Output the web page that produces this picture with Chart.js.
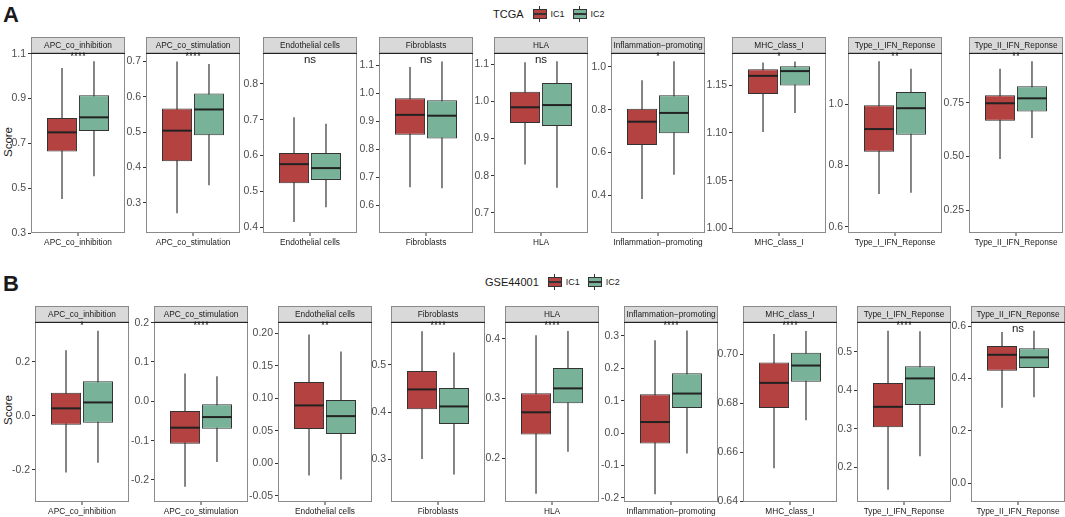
<!DOCTYPE html>
<html>
<head>
<meta charset="utf-8">
<script src="https://cdn.jsdelivr.net/npm/chart.js@4.4.0/dist/chart.umd.min.js"></script>
<style>
  body { margin: 0; width: 1065px; height: 517px; background: #fff; position: relative; overflow: hidden;
         font-family: "Liberation Sans", Arial, sans-serif; color: #1a1a1a; }
  .panel { position: absolute; }
  .tag { position: absolute; font-weight: bold; font-size: 22px; line-height: 22px; }
  .ytitle { position: absolute; font-size: 11.5px; width: 60px; text-align: center; transform: rotate(-90deg); }
  .legend { position: absolute; display: flex; align-items: center; font-size: 9px; line-height: 12px; }
  .legend .lt { font-size: 11px; margin-right: 4px; }
  .key { position: relative; box-sizing: border-box; width: 14px; height: 10px; border: 1px solid #333; margin: 0 4px 0 5px; }
  .key i { position: absolute; left: 0; right: 0; top: 3px; height: 2px; background: #333; }
  .key::before, .key::after { content: ""; position: absolute; left: 5px; width: 1.2px; height: 3px; background: #333; }
  .key::before { top: -4px; }
  .key::after { bottom: -4px; }
</style>
</head>
<body>
<div class="tag" style="left:3px;top:4px">A</div>
<div class="tag" style="left:3px;top:273px">B</div>
<div class="ytitle" style="left:-22px;top:136px">Score</div>
<div class="ytitle" style="left:-22px;top:404px">Score</div>
<div class="legend" style="left:493px;top:8px">
  <span class="lt">TCGA</span><span class="key" style="background:#B44240"><i></i></span><span>IC1</span>
  <span class="key" style="background:#78B298;margin-left:8px"><i></i></span><span>IC2</span>
</div>
<div class="legend" style="left:485px;top:276px">
  <span class="lt">GSE44001</span><span class="key" style="background:#B44240"><i></i></span><span>IC1</span>
  <span class="key" style="background:#78B298;margin-left:8px"><i></i></span><span>IC2</span>
</div>

<script>
// panel names
const panels = ["APC_co_inhibition", "APC_co_stimulation", "Endothelial cells", "Fibroblasts", "HLA",
  "Inflammation−promoting", "MHC_class_I", "Type_I_IFN_Reponse", "Type_II_IFN_Reponse"];

// significance labels
const tcgaSig = ["****", "****", "ns", "ns", "ns", "*", "*", "**", "**"];
const gseSig = ["*", "****", "**", "****", "****", "****", "****", "****", "ns"];

// box stats: [min, q1, median, q3, max]
const tcgaIC1 = [
  [0.452, 0.664, 0.749, 0.813, 1.036],
  [0.270, 0.417, 0.504, 0.567, 0.700],
  [0.415, 0.523, 0.576, 0.607, 0.707],
  [0.664, 0.852, 0.923, 0.982, 1.094],
  [0.830, 0.942, 0.984, 1.026, 1.105],
  [0.383, 0.635, 0.744, 0.804, 0.938],
  [1.101, 1.141, 1.160, 1.167, 1.174],
  [0.707, 0.845, 0.919, 0.997, 1.140],
  [0.488, 0.666, 0.747, 0.784, 0.908]
];
const tcgaIC2 = [
  [0.553, 0.755, 0.816, 0.914, 1.066],
  [0.349, 0.491, 0.564, 0.609, 0.693],
  [0.456, 0.532, 0.565, 0.607, 0.689],
  [0.661, 0.839, 0.920, 0.975, 1.114],
  [0.768, 0.934, 0.990, 1.049, 1.108],
  [0.496, 0.690, 0.785, 0.868, 1.027],
  [1.121, 1.150, 1.165, 1.170, 1.175],
  [0.711, 0.900, 0.987, 1.040, 1.116],
  [0.585, 0.709, 0.770, 0.826, 0.943]
];
const gseIC1 = [
  [-0.210, -0.033, 0.028, 0.086, 0.243],
  [-0.217, -0.108, -0.067, -0.0245, 0.071],
  [-0.019, 0.0526, 0.089, 0.125, 0.198],
  [0.301, 0.406, 0.448, 0.487, 0.571],
  [0.141, 0.240, 0.277, 0.309, 0.406],
  [-0.189, -0.032, 0.034, 0.120, 0.287],
  [0.6535, 0.6781, 0.6884, 0.6967, 0.7084],
  [0.141, 0.304, 0.357, 0.419, 0.555],
  [0.288, 0.430, 0.491, 0.525, 0.578]
];
const gseIC2 = [
  [-0.174, -0.025, 0.050, 0.128, 0.316],
  [-0.154, -0.070, -0.040, -0.0076, 0.064],
  [-0.025, 0.045, 0.0725, 0.0975, 0.172],
  [0.268, 0.375, 0.412, 0.451, 0.526],
  [0.211, 0.292, 0.317, 0.351, 0.413],
  [-0.063, 0.077, 0.122, 0.185, 0.317],
  [0.6731, 0.6889, 0.6955, 0.7007, 0.7096],
  [0.228, 0.362, 0.431, 0.463, 0.554],
  [0.328, 0.440, 0.481, 0.516, 0.583]
];

// y tick labels
const tcgaTicks = [
  ["0.3", "0.5", "0.7", "0.9", "1.1"],
  ["0.3", "0.4", "0.5", "0.6", "0.7"],
  ["0.4", "0.5", "0.6", "0.7", "0.8"],
  ["0.6", "0.7", "0.8", "0.9", "1.0", "1.1"],
  ["0.7", "0.8", "0.9", "1.0", "1.1"],
  ["0.4", "0.6", "0.8", "1.0"],
  ["1.00", "1.05", "1.10", "1.15"],
  ["0.6", "0.8", "1.0"],
  ["0.25", "0.50", "0.75"]
];
const gseTicks = [
  ["-0.2", "0.0", "0.2"],
  ["-0.2", "-0.1", "0.0", "0.1", "0.2"],
  ["-0.05", "0.00", "0.05", "0.10", "0.15", "0.20"],
  ["0.3", "0.4", "0.5"],
  ["0.2", "0.3", "0.4"],
  ["-0.2", "-0.1", "0.0", "0.1", "0.2", "0.3"],
  ["0.64", "0.66", "0.68", "0.70"],
  ["0.2", "0.3", "0.4", "0.5"],
  ["0.0", "0.2", "0.4", "0.6"]
];

// y axis limits [min, max]
const tcgaLimits = [[0.3, 1.103], [0.214, 0.724], [0.384, 0.886], [0.501, 1.144], [0.646, 1.130],
  [0.224, 1.065], [0.995, 1.184], [0.580, 1.167], [0.143, 0.981]];
const gseLimits = [[-0.319, 0.348], [-0.256, 0.2017], [-0.0597, 0.2174], [0.210, 0.5905], [0.127, 0.428],
  [-0.213, 0.343], [0.6397, 0.7133], [0.109, 0.578], [-0.0725, 0.6165]];

const RED = "#B44240";
const GREEN = "#78B298";
const DARK = "#333333";
const FONT = "'Liberation Sans', Arial, sans-serif";

const AXW = 34, XH = 18, STRIP = 16, PW = 94;

const boxPlugin = {
  id: "boxes",
  beforeDatasetsDraw(chart) {
    const { ctx } = chart;
    const y = chart.scales.y;
    chart.data.datasets.forEach((ds, i) => {
      const bar = chart.getDatasetMeta(i).data[0];
      const s = ds.stats;
      ctx.save();
      ctx.strokeStyle = DARK;
      ctx.lineWidth = 1.2;
      ctx.beginPath();
      ctx.moveTo(bar.x, y.getPixelForValue(s[0]));
      ctx.lineTo(bar.x, y.getPixelForValue(s[4]));
      ctx.stroke();
      ctx.restore();
    });
  },
  afterDatasetsDraw(chart) {
    const { ctx } = chart;
    const y = chart.scales.y;
    chart.data.datasets.forEach((ds, i) => {
      const bar = chart.getDatasetMeta(i).data[0];
      const py = y.getPixelForValue(ds.stats[2]);
      ctx.save();
      ctx.strokeStyle = "#222";
      ctx.lineWidth = 2;
      ctx.beginPath();
      ctx.moveTo(bar.x - bar.width / 2, py);
      ctx.lineTo(bar.x + bar.width / 2, py);
      ctx.stroke();
      ctx.restore();
    });
  },
  afterDraw(chart) {
    const { ctx, chartArea: a } = chart;
    const o = chart.options.plugins.boxes;
    const cx = a.left + a.width / 2;
    ctx.save();
    // panel border
    ctx.strokeStyle = "#8a8a8a";
    ctx.lineWidth = 1;
    ctx.strokeRect(a.left + 0.5, a.top, a.width - 1, a.height - 0.5);
    // strip
    ctx.fillStyle = "#D9D9D9";
    ctx.fillRect(a.left, 0.5, a.width, a.top - 0.5);
    ctx.strokeRect(a.left + 0.5, 0.5, a.width - 1, a.top - 0.5);
    ctx.strokeStyle = "#222";
    ctx.beginPath();
    ctx.moveTo(a.left, a.top + 0.5);
    ctx.lineTo(a.right, a.top + 0.5);
    ctx.stroke();
    ctx.fillStyle = "#1a1a1a";
    ctx.font = "8.3px " + FONT;
    ctx.textAlign = "center";
    ctx.textBaseline = "middle";
    ctx.fillText(o.title, cx, a.top / 2 + 0.5);
    // significance
    if (o.sig === "ns") {
      ctx.font = "11.5px " + FONT;
      ctx.fillText(o.sig, cx, a.top + 7);
    } else {
      ctx.font = "10px " + FONT;
      ctx.textBaseline = "top";
      ctx.fillText(o.sig, cx, a.top - 1);
    }
    // x tick and label
    ctx.strokeStyle = DARK;
    ctx.beginPath();
    ctx.moveTo(cx, a.bottom);
    ctx.lineTo(cx, a.bottom + 3);
    ctx.stroke();
    ctx.font = "8.3px " + FONT;
    ctx.textBaseline = "middle";
    ctx.fillText(o.title, cx, a.bottom + 10);
    ctx.restore();
  }
};

function makePanel(left, top, height, idx, ic1, ic2, ticks, limits, sig) {
  const div = document.createElement("div");
  div.className = "panel";
  const w = AXW + PW + 20;
  div.style.left = (left - AXW) + "px";
  div.style.top = top + "px";
  const cv = document.createElement("canvas");
  cv.width = w;
  cv.height = height;
  cv.style.width = w + "px";
  cv.style.height = height + "px";
  div.appendChild(cv);
  document.body.appendChild(div);
  const labels = ticks[idx];
  const mk = (name, s, color) => ({
    label: name, data: [[s[1], s[3]]], stats: s,
    backgroundColor: color, borderColor: DARK, borderWidth: 1, borderSkipped: false,
    categoryPercentage: 0.68, barPercentage: 0.94
  });
  new Chart(cv, {
    type: "bar",
    data: { labels: [panels[idx]], datasets: [mk("IC1", ic1[idx], RED), mk("IC2", ic2[idx], GREEN)] },
    options: {
      responsive: false,
      animation: false,
      layout: { padding: { top: STRIP, right: 20, left: 0, bottom: XH } },
      plugins: {
        legend: { display: false },
        tooltip: { enabled: false },
        boxes: { title: panels[idx], sig: sig[idx] }
      },
      scales: {
        x: { display: false },
        y: {
          min: limits[idx][0],
          max: limits[idx][1],
          grid: { drawOnChartArea: false, tickLength: 3, color: DARK },
          border: { display: false },
          ticks: {
            color: "#4d4d4d", font: { size: 10.5, family: FONT }, padding: 2, autoSkip: false,
            callback: (v, i) => labels[i]
          },
          afterBuildTicks: (s) => { s.ticks = labels.map((t) => ({ value: parseFloat(t) })); },
          afterFit: (s) => { s.width = AXW; }
        }
      }
    },
    plugins: [boxPlugin]
  });
}

const topLefts = [31, 146, 263, 379, 494, 611, 732, 848, 969];
const botLefts = [35, 154, 278, 391, 505, 624, 743, 857, 971];
panels.forEach((p, i) => {
  makePanel(topLefts[i], 37, STRIP + 180 + XH, i, tcgaIC1, tcgaIC2, tcgaTicks, tcgaLimits, tcgaSig);
  makePanel(botLefts[i], 306, STRIP + 180 + XH, i, gseIC1, gseIC2, gseTicks, gseLimits, gseSig);
});
</script>
</body>
</html>
